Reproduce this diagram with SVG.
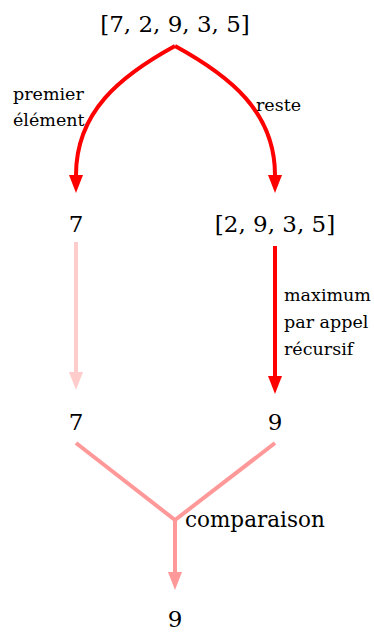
<svg xmlns="http://www.w3.org/2000/svg" width="374" height="633" viewBox="0 0 374 633">
<style>
.val{font-family:"DejaVu Serif","Liberation Serif",serif;font-size:23px;fill:#000;text-anchor:middle}
.lbl{font-family:"DejaVu Serif","Liberation Serif",serif;font-size:17.5px;fill:#000}
.cmp{font-family:"DejaVu Serif","Liberation Serif",serif;font-size:21.5px;fill:#000}
.c{fill:none;stroke-width:4}
.red{stroke:#ff0000}
.lt{stroke:#ffcccc}
.pk{stroke:#ff9999}
</style>
<defs>
<marker id="hr" viewBox="0 0 18 14" refX="0" refY="7" markerWidth="18" markerHeight="14" markerUnits="userSpaceOnUse" orient="auto"><path d="M0,0 L18,7 L0,14 Z" fill="#ff0000"/></marker>
<marker id="hl" viewBox="0 0 18 14" refX="0" refY="7" markerWidth="18" markerHeight="14" markerUnits="userSpaceOnUse" orient="auto"><path d="M0,0 L18,7 L0,14 Z" fill="#ffcccc"/></marker>
<marker id="hp" viewBox="0 0 18 14" refX="0" refY="7" markerWidth="18" markerHeight="14" markerUnits="userSpaceOnUse" orient="auto"><path d="M0,0 L18,7 L0,14 Z" fill="#ff9999"/></marker>
</defs>
<g id="connectors">
<path class="c red" d="M175,46 C120,76 76,112 76,175" marker-end="url(#hr)"/>
<path class="c red" d="M175,46 C230,76 275,112 275,175" marker-end="url(#hr)"/>
<path class="c lt" d="M76,242 L76,372" marker-end="url(#hl)"/>
<path class="c red" d="M275,246 L275,376" marker-end="url(#hr)"/>
<path class="c pk" d="M76,443 L175,520 L275,443" stroke-linejoin="miter"/>
<path class="c pk" d="M175,520 L175,572" marker-end="url(#hp)"/>
<text class="lbl" x="13" y="100">premier</text>
<text class="lbl" x="13" y="126">élément</text>
<text class="lbl" x="256" y="111">reste</text>
<text class="lbl" x="284" y="301">maximum</text>
<text class="lbl" x="284" y="328">par appel</text>
<text class="lbl" x="284" y="355">récursif</text>
<text class="cmp" x="185" y="527">comparaison</text>
</g>
<g id="n-list"><text class="val" x="175" y="32">[7, 2, 9, 3, 5]</text></g>
<g id="n-first"><text class="val" x="76" y="232">7</text></g>
<g id="n-rest"><text class="val" x="275" y="232">[2, 9, 3, 5]</text></g>
<g id="n-first2"><text class="val" x="76" y="430">7</text></g>
<g id="n-max"><text class="val" x="275" y="430">9</text></g>
<g id="n-result"><text class="val" x="175" y="627">9</text></g>
</svg>
